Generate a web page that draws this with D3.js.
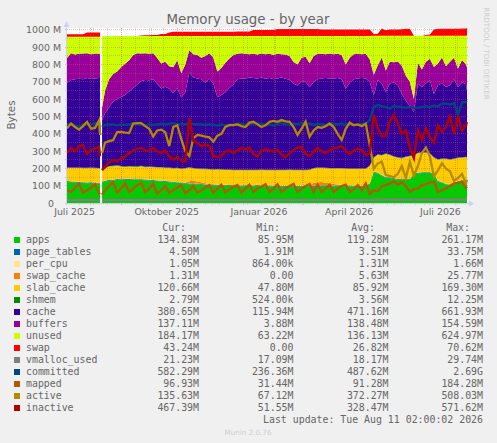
<!DOCTYPE html>
<html>
<head>
<meta charset="utf-8">
<script src="https://cdn.jsdelivr.net/npm/d3@7"></script>
<style>
  html, body { margin: 0; padding: 0; background: #f0f0f0; }
  svg { display: block; }
  .mono { font-family: "DejaVu Sans Mono", monospace; font-size: 9.9px; fill: #666; }
  .sans { font-family: "DejaVu Sans", sans-serif; fill: #666; }
</style>
</head>
<body>
<svg id="chart" width="497" height="443"></svg>
<script>
// Day offsets from 9 Jul 2025 for every sample, null sample is the outage
const days = [
  0, 4, 8, 12, 16, 20, 24, 28, 32, 33, 34, 35,
  38, 42, 46, 50, 54, 58, 62, 66, 70, 74,
  78, 82, 86, 90, 94, 98, 102, 106, 110, 114,
  118, 122, 126, 130, 134, 138, 142, 146, 150, 154,
  158, 162, 166, 170, 174, 178, 182, 186, 190, 194,
  198, 202, 206, 210, 214, 218, 222, 226, 230, 234,
  238, 242, 246, 250, 254, 258, 262, 266, 270, 274,
  278, 282, 286, 290, 294, 298, 302, 306, 310, 314,
  318, 322, 326, 330, 334, 338, 342, 346, 350, 354,
  358, 362, 366, 370, 374, 378, 382, 386, 390, 394,
  398, 399
];

// Stacked series, values in M
const apps = [
  124, 122, 120, 119, 118, 116, 117, 115, 112, 112, null, 120,
  126, 130, 132, 136, 135, 136, 136, 135, 135, 134,
  133, 132, 130, 128, 126, 125, 122, 120, 118, 116,
  115, 110, 112, 108, 107, 105, 106, 104, 103, 102,
  102, 101, 100, 99, 98, 100, 100, 99, 101, 98,
  98, 99, 97, 98, 97, 96, 96, 97, 96, 97,
  95, 96, 96, 97, 100, 100, 98, 99, 100, 98,
  98, 99, 97, 98, 97, 98, 110, 180, 172, 158,
  146, 146, 140, 134, 134, 134, 134, 169, 172, 175,
  175, 175, 170, 125, 118, 108, 105, 108, 125, 128,
  130, 134.83
];
const pageTables = [
  4, 4, 4, 4, 4, 4, 4, 4, 4, 4, null, 4,
  4, 4, 4, 4, 4, 4, 4, 4, 4, 4,
  4, 4, 4, 4, 4, 4, 4, 4, 4, 4,
  4, 4, 4, 4, 4, 4, 4, 4, 4, 4,
  4, 4, 4, 4, 4, 4, 4, 4, 4, 4,
  4, 4, 4, 4, 4, 4, 4, 4, 4, 4,
  4, 4, 4, 4, 4, 4, 4, 4, 4, 4,
  4, 4, 4, 4, 4, 4, 4, 4, 4, 4,
  4, 4, 4, 4, 4, 4, 4, 4, 4, 4,
  4, 4, 4, 4, 4, 4, 4, 4, 4, 4,
  4, 4.5
];
const perCpu = [
  1, 1, 1, 1, 1, 1, 1, 1, 1, 1, null, 1,
  1, 1, 1, 1, 1, 1, 1, 1, 1, 1,
  1, 1, 1, 1, 1, 1, 1, 1, 1, 1,
  1, 1, 1, 1, 1, 1, 1, 1, 1, 1,
  1, 1, 1, 1, 1, 1, 1, 1, 1, 1,
  1, 1, 1, 1, 1, 1, 1, 1, 1, 1,
  1, 1, 1, 1, 1, 1, 1, 1, 1, 1,
  1, 1, 1, 1, 1, 1, 1, 1, 1, 1,
  1, 1, 1, 1, 1, 1, 1, 1, 1, 1,
  1, 1, 1, 1, 1, 1, 1, 1, 1, 1,
  1, 1.05
];
const swapCache = [
  0, 0, 0, 0, 0, 0, 0, 0, 0, 0, null, 0,
  0, 0, 0, 0, 0, 0, 0, 0, 0, 0,
  0, 0, 0, 0, 0, 0, 0, 0, 0, 0,
  0, 12, 14, 12, 10, 6, 0, 0, 0, 0,
  0, 0, 0, 0, 0, 0, 0, 0, 0, 0,
  0, 0, 0, 0, 0, 0, 0, 0, 0, 0,
  0, 0, 18, 20, 18, 14, 12, 8, 4, 2,
  0, 0, 0, 0, 0, 0, 0, 1, 1, 1,
  1, 1, 1, 1, 1, 1, 1, 1, 1, 1,
  1, 1, 1, 1, 1, 1, 1, 1, 1, 1,
  1, 1.31
];
const slabCache = [
  74, 76, 79, 79, 79, 81, 81, 82, 83, 83, null, 65,
  69, 77, 77, 75, 72, 69, 71, 71, 70, 75,
  70, 72, 73, 73, 75, 74, 76, 75, 79, 77,
  80, 78, 69, 73, 75, 80, 84, 84, 87, 87,
  85, 86, 86, 86, 87, 86, 85, 86, 84, 89,
  87, 87, 88, 88, 88, 89, 91, 89, 89, 88,
  90, 91, 81, 82, 81, 83, 86, 88, 92, 95,
  96, 94, 96, 95, 96, 95, 100, 77, 102, 112,
  133, 127, 123, 122, 119, 127, 131, 101, 111, 110,
  110, 105, 87, 120, 132, 142, 140, 142, 130, 129,
  129, 120.66
];
const shmem = [
  3, 3, 3, 3, 3, 3, 3, 3, 3, 3, null, 3,
  3, 3, 3, 3, 3, 3, 3, 3, 3, 3,
  3, 3, 3, 3, 3, 3, 3, 3, 3, 3,
  3, 3, 3, 3, 3, 3, 3, 3, 3, 3,
  3, 3, 3, 3, 3, 3, 3, 3, 3, 3,
  3, 3, 3, 3, 3, 3, 3, 3, 3, 3,
  3, 3, 3, 3, 3, 3, 3, 3, 3, 3,
  3, 3, 3, 3, 3, 3, 3, 3, 3, 3,
  3, 3, 3, 3, 3, 3, 3, 3, 3, 3,
  3, 3, 3, 3, 3, 3, 3, 3, 3, 3,
  3, 2.79
];
const cache = [
  488, 505, 508, 512, 511, 517, 511, 515, 519, 519, null, 287,
  317, 341, 369, 382, 398, 412, 430, 451, 472, 488,
  500, 498, 504, 481, 453, 465, 454, 432, 460, 409,
  437, 547, 522, 519, 515, 496, 522, 494, 414, 428,
  445, 470, 491, 522, 527, 526, 532, 529, 527, 530,
  525, 528, 522, 526, 532, 525, 517, 496, 487, 512,
  507, 475, 497, 508, 513, 517, 516, 515, 518, 512,
  458, 494, 514, 519, 521, 519, 482, 355, 429, 412,
  353, 409, 424, 416, 369, 321, 287, 247, 399, 375,
  397, 420, 365, 427, 432, 412, 427, 457, 407, 430,
  418, 380.65
];
const buffers = [
  144, 155, 143, 144, 148, 144, 143, 144, 140, 140, null, 72,
  130, 159, 159, 159, 172, 180, 180, 190, 181, 159,
  155, 152, 150, 148, 144, 145, 130, 150, 160, 140,
  160, 127, 135, 135, 125, 155, 146, 150, 148, 155,
  170, 170, 170, 147, 146, 142, 135, 140, 138, 139,
  142, 140, 141, 142, 135, 140, 138, 125, 120, 135,
  145, 138, 150, 147, 142, 138, 144, 142, 140, 140,
  140, 145, 145, 142, 138, 142, 130, 120, 84, 150,
  125, 125, 117, 137, 162, 145, 140, 75, 120, 102,
  125, 124, 155, 125, 150, 120, 135, 123, 105, 130,
  115, 137.11
];
const unused = [
  123, 95, 103, 99, 97, 95, 101, 97, 99, 99, null, 413,
  315, 250, 220, 205, 180, 160, 140, 110, 99, 101,
  99, 103, 100, 127, 159, 148, 175, 180, 140, 215,
  165, 83, 105, 110, 125, 115, 99, 125, 205, 185,
  155, 130, 110, 103, 99, 103, 105, 103, 107, 101,
  105, 103, 109, 103, 105, 107, 115, 150, 165, 125,
  120, 157, 115, 103, 103, 105, 101, 105, 103, 110,
  165, 125, 105, 103, 105, 103, 135, 225, 170, 125,
  200, 150, 153, 148, 173, 230, 265, 365, 155, 195,
  150, 133, 180, 160, 125, 175, 150, 127, 190, 140,
  165, 184.17
];
const swap = [
  14, 14, 14, 14, 14, 24, 24, 24, 24, 24, null, 0,
  0, 0, 0, 0, 0, 0, 0, 0, 0, 3,
  4, 4, 5, 5, 12, 12, 20, 24, 24, 25,
  25, 25, 25, 25, 25, 25, 25, 25, 25, 25,
  25, 25, 25, 26, 26, 26, 26, 35, 35, 35,
  35, 35, 35, 40, 40, 40, 40, 40, 40, 40,
  40, 40, 40, 40, 38, 38, 38, 38, 38, 38,
  38, 38, 38, 38, 38, 38, 37, 10, 12, 42,
  32, 37, 37, 37, 38, 40, 40, 0, 0, 0,
  5, 7, 37, 41, 41, 41, 41, 41, 41, 42,
  42, 43.24
];

// Line series, values in M
const vmallocUsed = [
  18, 18, 18, 18, 18, 18, 18, 18, 18, 18, null, 18,
  18, 18, 18, 18, 18, 18, 18, 18, 18, 18,
  18, 18, 18, 18, 18, 18, 18, 18, 18, 18,
  18, 18, 18, 18, 18, 18, 18, 18, 18, 18,
  18, 18, 18, 18, 18, 18, 18, 18, 18, 18,
  18, 18, 18, 18, 18, 18, 18, 18, 18, 18,
  18, 18, 18, 18, 18, 18, 18, 18, 18, 18,
  18, 18, 18, 18, 18, 18, 18, 21, 21, 21,
  21, 21, 21, 21, 21, 21, 21, 21, 21, 21,
  21, 21, 21, 21, 21, 21, 21, 21, 21, 21,
  21, 21.23
];
const committed = [
  455, 460, 450, 440, 455, 458, 455, 462, 460, 394, null, 440,
  452, 455, 455, 450, 455, 452, 455, 460, 455, 452,
  450, 455, 452, 456, 458, 455, 460, 462, 455, 458,
  455, 462, 458, 456, 455, 452, 456, 452, 448, 455,
  450, 455, 452, 462, 458, 452, 455, 460, 462, 458,
  452, 455, 450, 458, 462, 455, 452, 460, 455, 465,
  458, 460, 452, 458, 455, 452, 458, 460, 455, 462,
  452, 458, 455, 452, 458, 460, 480, 557, 567, 560,
  555, 547, 560, 558, 555, 552, 556, 550, 552, 555,
  560, 555, 565, 560, 575, 575, 570, 578, 510, 582,
  585, 582.29
];
const mapped = [
  75, 65, 90, 112, 62, 75, 90, 110, 58, 52, null, 50,
  75, 100, 123, 62, 85, 115, 65, 85, 105, 118,
  65, 85, 112, 55, 75, 100, 60, 75, 90, 105,
  58, 75, 98, 62, 75, 90, 105, 62, 85, 108,
  62, 80, 95, 105, 62, 85, 108, 65, 85, 95,
  110, 65, 85, 110, 65, 85, 100, 112, 65, 85,
  100, 112, 65, 108, 65, 85, 108, 65, 85, 100,
  108, 65, 80, 105, 75, 115, 54, 75, 70, 100,
  105, 115, 125, 108, 120, 100, 65, 80, 85, 105,
  110, 120, 125, 65, 75, 85, 100, 115, 118, 125,
  90, 96.93
];
const active = [
  433, 460, 440, 425, 445, 470, 430, 435, 478, 394, null, 290,
  350, 358, 364, 410, 412, 408, 405, 460, 462, 462,
  445, 430, 385, 420, 425, 410, 330, 440, 450, 370,
  300, 273, 376, 394, 390, 385, 380, 355, 390, 400,
  440, 451, 451, 455, 445, 440, 465, 470, 455, 440,
  450, 470, 475, 470, 480, 472, 470, 440, 394, 430,
  471, 384, 420, 440, 435, 445, 460, 440, 400, 365,
  430, 465, 450, 455, 445, 460, 336, 200, 230, 240,
  163, 158, 150, 170, 215, 146, 240, 160, 215, 290,
  322, 270, 155, 190, 230, 200, 185, 130, 145, 170,
  115, 135.63
];
const inactive = [
  290, 319, 300, 330, 336, 285, 310, 315, 327, 270, null, 190,
  210, 235, 250, 243, 260, 269, 290, 305, 315, 319,
  305, 305, 319, 300, 292, 305, 270, 250, 270, 245,
  240, 492, 360, 348, 330, 340, 330, 270, 268, 272,
  300, 305, 290, 305, 319, 310, 319, 285, 270, 305,
  310, 305, 300, 307, 280, 265, 290, 307, 320, 327,
  285, 272, 300, 319, 300, 290, 305, 319, 322, 327,
  305, 285, 305, 315, 305, 279, 290, 510, 433, 385,
  390, 470, 510, 460, 400, 420, 320, 260, 420, 365,
  433, 380, 350, 450, 410, 440, 500, 400, 505, 420,
  450, 467.39
];

// Legend table
const seriesNames = ["apps", "page_tables", "per_cpu", "swap_cache", "slab_cache", "shmem", "cache", "buffers", "unused", "swap", "vmalloc_used", "committed", "mapped", "active", "inactive"];
const curLabels = ["134.83M", "4.50M", "1.05M", "1.31M", "120.66M", "2.79M", "380.65M", "137.11M", "184.17M", "43.24M", "21.23M", "582.29M", "96.93M", "135.63M", "467.39M"];
const minLabels = ["85.95M", "1.91M", "864.00k", "0.00", "47.80M", "524.00k", "115.94M", "3.88M", "63.22M", "0.00", "17.09M", "236.36M", "31.44M", "67.12M", "51.55M"];
const avgLabels = ["119.28M", "3.51M", "1.31M", "5.63M", "85.92M", "3.56M", "471.16M", "138.48M", "136.13M", "26.82M", "18.17M", "487.62M", "91.28M", "372.27M", "328.47M"];
const maxLabels = ["261.17M", "33.75M", "1.66M", "25.77M", "169.30M", "12.25M", "661.93M", "154.59M", "624.97M", "70.62M", "29.74M", "2.69G", "184.28M", "508.03M", "571.62M"];

// Axis labels
const yTicks = [0, 100, 200, 300, 400, 500, 600, 700, 800, 900, 1000];
const xLabelDates = ["2025-07-16", "2025-10-16", "2026-01-16", "2026-04-16", "2026-07-16"];
const xLabelNames = ["Juli 2025", "Oktober 2025", "Januar 2026", "April 2026", "Juli 2026"];

const colors = ["#00CC00", "#0066B3", "#FFE680", "#FF8000", "#FFCC00", "#008F00", "#330099", "#990099", "#CCFF00", "#FF0000", "#808080", "#00487D", "#B35A00", "#B38A00", "#B30000"];
const colorOf = d3.scaleOrdinal().domain(seriesNames).range(colors);

// Plot box
const plot = {left: 67, right: 466, top: 28, bottom: 203.3};
const parseDay = d3.utcParse("%Y-%m-%d");
const startDate = parseDay("2025-07-09");
const endDate = parseDay("2026-08-11");

const xScale = d3.scaleUtc().domain([startDate, endDate]).range([plot.left, plot.right]);
const yScale = d3.scaleLinear().domain([0, 1011]).range([plot.bottom, plot.top]);

const svg = d3.select("#chart");
const dates = days.map(d => d3.utcDay.offset(startDate, d));

svg.append("rect")
  .attr("x", plot.left).attr("y", plot.top)
  .attr("width", plot.right - plot.left).attr("height", plot.bottom - plot.top)
  .attr("fill", "#fff");

// Stacked areas
const stackArrays = [apps, pageTables, perCpu, swapCache, slabCache, shmem, cache, buffers, unused, swap];
const stackKeys = seriesNames.slice(0, stackArrays.length);
const rows = days.map((d, i) => {
  const row = {date: dates[i], gap: apps[i] === null};
  stackKeys.forEach((k, j) => { row[k] = stackArrays[j][i] || 0; });
  return row;
});
const layers = d3.stack().keys(stackKeys)(rows);
const area = d3.area()
  .defined(d => !d.data.gap)
  .x(d => xScale(d.data.date))
  .y0(d => yScale(d[0]))
  .y1(d => yScale(d[1]));
svg.append("g").selectAll("path")
  .data(layers)
  .join("path")
  .attr("fill", d => colorOf(d.key))
  .attr("d", area);

// Grid sits above the areas, as in rrdtool
const gridMinor = "rgba(128,128,128,0.32)";
const gridMajor = "rgba(224,80,80,0.38)";
const grid = svg.append("g").attr("stroke-dasharray", "1,1").attr("shape-rendering", "crispEdges");
d3.range(0, 1001, 50).forEach(v => {
  const major = v % 100 === 0;
  grid.append("line")
    .attr("x1", plot.left - 2).attr("x2", plot.right + 2)
    .attr("y1", yScale(v)).attr("y2", yScale(v))
    .attr("stroke", major ? gridMajor : gridMinor);
});
d3.utcMonday.range(parseDay("2025-07-21"), endDate, 2).forEach(d => {
  grid.append("line")
    .attr("x1", xScale(d)).attr("x2", xScale(d))
    .attr("y1", plot.top).attr("y2", plot.bottom + 2)
    .attr("stroke", gridMinor);
});
d3.utcMonth.range(parseDay("2025-08-01"), endDate).forEach(d => {
  grid.append("line")
    .attr("x1", xScale(d)).attr("x2", xScale(d))
    .attr("y1", plot.top).attr("y2", plot.bottom + 2)
    .attr("stroke", gridMajor);
});

// Line series
const lineArrays = [vmallocUsed, committed, mapped, active, inactive];
const lineKeys = seriesNames.slice(stackArrays.length);
const line = d3.line()
  .defined(d => d.value !== null)
  .x(d => xScale(d.date))
  .y(d => yScale(d.value));
svg.append("g").selectAll("path")
  .data(lineKeys.map((k, j) => ({key: k, values: dates.map((date, i) => ({date, value: lineArrays[j][i]}))})))
  .join("path")
  .attr("fill", "none")
  .attr("stroke", d => colorOf(d.key))
  .attr("stroke-width", 2.3)
  .attr("d", d => line(d.values));

// Axis arrows
const arrowColor = "#ccd4f5";
svg.append("line").attr("x1", plot.left - 0.5).attr("x2", plot.left - 0.5)
  .attr("y1", 24).attr("y2", plot.bottom + 2).attr("stroke", arrowColor);
svg.append("line").attr("x1", plot.left - 2).attr("x2", plot.right + 4)
  .attr("y1", plot.bottom + 0.5).attr("y2", plot.bottom + 0.5).attr("stroke", arrowColor);
svg.append("path").attr("fill", arrowColor)
  .attr("d", d3.line()([[plot.left - 3.5, 27], [plot.left - 0.5, 21], [plot.left + 2.5, 27]]));
svg.append("path").attr("fill", arrowColor)
  .attr("d", d3.line()([[plot.right + 3, plot.bottom - 3], [plot.right + 8, plot.bottom + 0.5], [plot.right + 3, plot.bottom + 3.5]]));

// Y axis
const yAxis = svg.append("g")
  .attr("transform", `translate(${plot.left - 6},0)`)
  .call(d3.axisLeft(yScale).tickValues(yTicks).tickSize(0).tickPadding(0)
    .tickFormat(v => v === 0 ? "0" : `${v} M`));
yAxis.select(".domain").remove();
yAxis.selectAll("text").attr("font-size", 9.4).style("font-family", "DejaVu Sans").style("fill", "#666");
// the zero has no unit but stays in the digit column
yAxis.selectAll("text").filter(d => d === 0).attr("dx", -7);

// X axis, month names sit in the middle of their month
const xAxis = svg.append("g")
  .attr("transform", `translate(0,${plot.bottom + 5})`)
  .call(d3.axisBottom(xScale).tickValues(xLabelDates.map(parseDay)).tickSize(0).tickPadding(0)
    .tickFormat((d, i) => xLabelNames[i]));
xAxis.select(".domain").remove();
xAxis.selectAll("text").attr("font-size", 9.4).style("font-family", "DejaVu Sans").style("fill", "#666");

// Titles
svg.append("text").attr("class", "sans")
  .attr("x", 248).attr("y", 24).attr("text-anchor", "middle")
  .attr("font-size", 13.4).text("Memory usage - by year");
svg.append("text").attr("class", "sans")
  .attr("transform", "translate(15,115) rotate(-90)").attr("text-anchor", "middle")
  .attr("font-size", 10.4).text("Bytes");
svg.append("text").attr("class", "sans")
  .attr("transform", "translate(484,53.5) rotate(90)").attr("text-anchor", "middle")
  .attr("font-size", 7.2).style("fill", "#cfcfcf").text("RRDTOOL / TOBI OETIKER");

// Legend
const rowY = i => 243 + i * 12;
const columns = [
  {head: "Cur:", values: curLabels, right: 199, headRight: 186},
  {head: "Min:", values: minLabels, right: 293.5, headRight: 280},
  {head: "Avg:", values: avgLabels, right: 388.5, headRight: 375},
  {head: "Max:", values: maxLabels, right: 483, headRight: 470}
];
columns.forEach(c => {
  svg.append("text").attr("class", "mono")
    .attr("x", c.headRight).attr("y", 231).attr("text-anchor", "end").text(c.head);
  svg.selectAll(null).data(c.values).join("text")
    .attr("class", "mono")
    .attr("x", c.right).attr("y", (d, i) => rowY(i)).attr("text-anchor", "end")
    .text(d => d);
});
svg.selectAll(null).data(seriesNames).join("rect")
  .attr("x", 14).attr("y", (d, i) => rowY(i) - 6)
  .attr("width", 6).attr("height", 6)
  .attr("fill", d => colorOf(d));
svg.selectAll(null).data(seriesNames).join("text")
  .attr("class", "mono")
  .attr("x", 26).attr("y", (d, i) => rowY(i))
  .text(d => d);
svg.append("text").attr("class", "mono")
  .attr("x", 483).attr("y", 423).attr("text-anchor", "end")
  .text("Last update: Tue Aug 11 02:00:02 2026");
svg.append("text").attr("class", "sans")
  .attr("x", 248).attr("y", 435).attr("text-anchor", "middle")
  .attr("font-size", 7.2).style("fill", "#cfcfcf").text("Munin 2.0.76");
</script>
</body>
</html>
